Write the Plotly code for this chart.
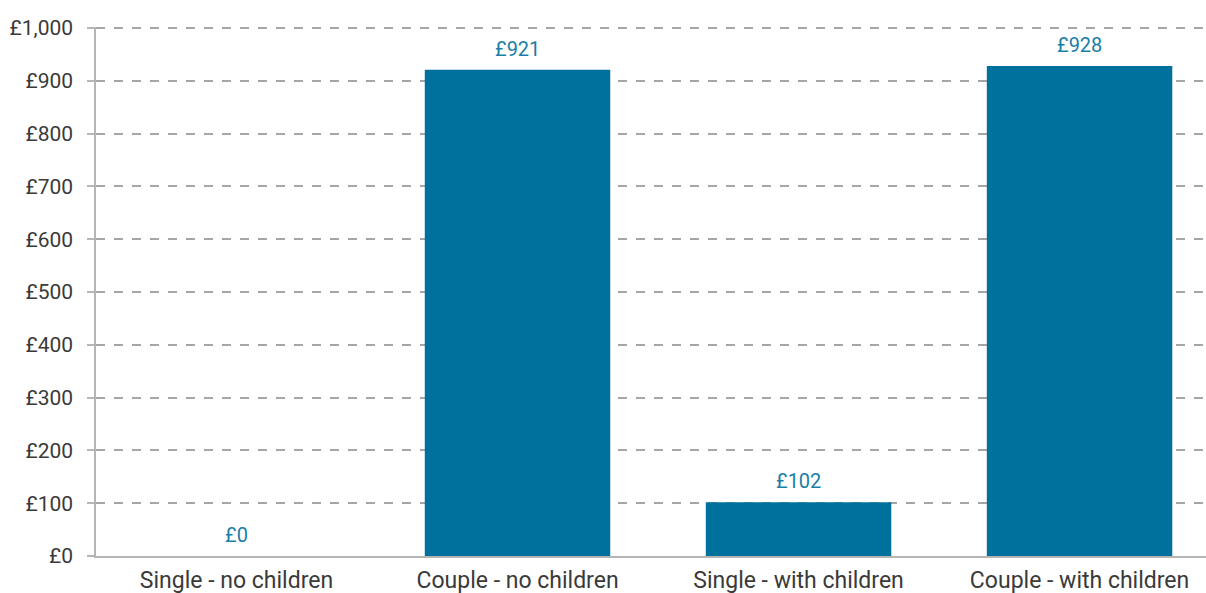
import plotly.graph_objects as go

categories = ["Single - no children", "Couple - no children", "Single - with children", "Couple - with children"]
values = [0, 921, 102, 928]
value_labels = ["£0", "£921", "£102", "£928"]
tick_vals = [0, 100, 200, 300, 400, 500, 600, 700, 800, 900, 1000]
tick_text = ["£0", "£100", "£200", "£300", "£400", "£500", "£600", "£700", "£800", "£900", "£1,000"]

fig = go.Figure(go.Bar(
    x=categories, y=values,
    marker=dict(color="#00719c", line=dict(width=0)),
    width=0.66,
))
for c, v, t in zip(categories, values, value_labels):
    fig.add_annotation(x=c, y=v, text=t, showarrow=False, yanchor="bottom", yshift=7,
                       font=dict(color="#1a7ea8", size=20, family="Roboto"))
fig.update_layout(
    width=1206, height=593, margin=dict(l=96, r=0, t=27, b=37),
    plot_bgcolor="white", paper_bgcolor="white",
    font=dict(family="Roboto", color="#3a3a3a", size=20),
    showlegend=False,
)
fig.update_xaxes(range=[-0.5, 3.45], showline=True, linecolor="#b5b5b5", linewidth=1.5,
                 ticks="", showgrid=False, ticklabelstandoff=3,
                 tickfont=dict(size=23, color="#3a3a3a"))
fig.update_yaxes(range=[0, 1002], tickvals=tick_vals, ticktext=tick_text,
                 showline=True, linecolor="#b5b5b5", linewidth=1.5,
                 ticks="outside", ticklen=7, tickcolor="#b5b5b5", tickwidth=1.5,
                 showgrid=True, gridcolor="#a6a6a6", griddash="dash", gridwidth=1.5,
                 zeroline=False, ticklabelstandoff=10,
                 tickfont=dict(size=21, color="#3a3a3a"))
fig.write_html("out.html", config={"displayModeBar": False},
               post_script="document.body.style.margin='0';document.body.style.overflow='hidden';")
